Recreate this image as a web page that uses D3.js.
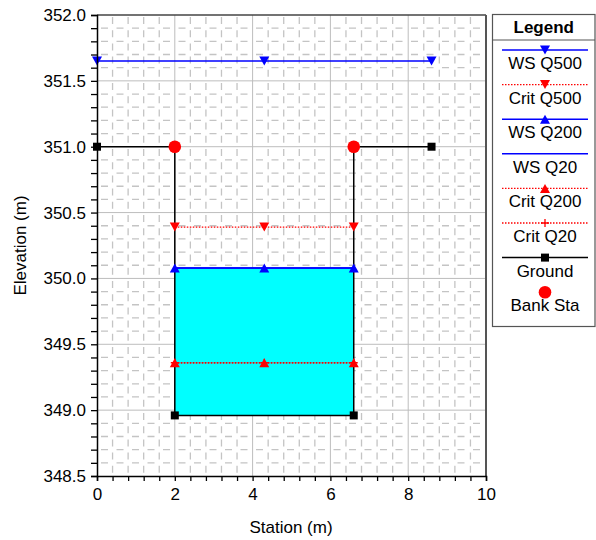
<!DOCTYPE html>
<html>
<head>
<meta charset="utf-8">
<script src="https://cdn.jsdelivr.net/npm/d3@7/dist/d3.min.js"></script>
<style>
  html, body { margin: 0; padding: 0; background: #fff; }
  svg { display: block; font-family: "Liberation Sans", Arial, sans-serif; }
</style>
</head>
<body>
<svg id="chart" width="596" height="540"></svg>
<script>
// Cross-section geometry (station in m, elevation in m)
const groundStation = [0, 2, 2, 6.6, 6.6, 8.6];
const groundElev    = [351.0, 351.0, 348.96, 348.96, 351.0, 351.0];
const bankStation   = [2, 6.6];
const bankElev      = [351.0, 351.0];

// Water surface profiles: start/end station, elevation, marker stations
const profileNames    = ["WS Q500", "Crit Q500", "WS Q200", "WS Q20", "Crit Q200", "Crit Q20"];
const profileElev     = [351.65, 350.39, 350.08, 350.08, 349.36, 349.36];
const profileStart    = [0, 2, 2, 2, 2, 2];
const profileEnd      = [8.6, 6.6, 6.6, 6.6, 6.6, 6.6];
const profileMarkerAt = [[0, 4.3, 8.6], [2, 4.3, 6.6], [2, 4.3, 6.6], [], [2, 4.3, 6.6], [2, 4.3, 6.6]];

const xTicks = [0, 2, 4, 6, 8, 10];
const yTicks = [348.5, 349.0, 349.5, 350.0, 350.5, 351.0, 351.5, 352.0];

const FONT = "Liberation Sans, Arial, sans-serif";
const svg = d3.select("#chart");
const plot = { left: 97, right: 486, top: 15, bottom: 476 };

const x = d3.scaleLinear().domain([0, 10]).range([plot.left, plot.right]);
const y = d3.scaleLinear().domain([348.5, 352.0]).range([plot.bottom, plot.top]);

// Profile styles
const profileStyle = {
  "WS Q500":   { color: "#0000ff", dash: null,      width: 1.5, marker: "down" },
  "Crit Q500": { color: "#ff0000", dash: "1.5,1.5", width: 1.3, marker: "down" },
  "WS Q200":   { color: "#0000ff", dash: null,      width: 1.5, marker: "up" },
  "WS Q20":    { color: "#0000ff", dash: null,      width: 1.5, marker: null },
  "Crit Q200": { color: "#ff0000", dash: "1.5,1.5", width: 1.3, marker: "up" },
  "Crit Q20":  { color: "#ff0000", dash: "1.5,1.5", width: 1.3, marker: "plus" }
};

const g = svg.append("g");

// Minor dashed grid
const minorX = d3.range(0.4, 10, 0.4).filter(v => Math.abs(v / 2 - Math.round(v / 2)) > 1e-6);
const minorY = d3.range(348.6, 352.0, 0.1).filter(v => Math.abs(v * 2 - Math.round(v * 2)) > 1e-6);
g.selectAll(".minx").data(minorX).join("line")
  .attr("x1", d => x(d)).attr("x2", d => x(d))
  .attr("y1", plot.top + 2).attr("y2", plot.bottom)
  .attr("stroke", "#c4c4c4").attr("stroke-width", 1.3)
  .attr("stroke-dasharray", "7,6.2");
g.selectAll(".miny").data(minorY).join("line")
  .attr("x1", plot.left + 4).attr("x2", plot.right)
  .attr("y1", d => y(d)).attr("y2", d => y(d))
  .attr("stroke", "#c4c4c4").attr("stroke-width", 1.3)
  .attr("stroke-dasharray", "7,8.5");

// Major grid
g.selectAll(".majx").data(xTicks.slice(1, -1)).join("line")
  .attr("x1", d => x(d)).attr("x2", d => x(d))
  .attr("y1", plot.top).attr("y2", plot.bottom)
  .attr("stroke", "#bdbdbd").attr("stroke-width", 1);
g.selectAll(".majy").data(yTicks.slice(1, -1)).join("line")
  .attr("x1", plot.left).attr("x2", plot.right)
  .attr("y1", d => y(d)).attr("y2", d => y(d))
  .attr("stroke", "#bdbdbd").attr("stroke-width", 1);

// Water fill (WS Q200 down to channel bed)
const wsIdx = profileNames.indexOf("WS Q200");
g.append("rect")
  .attr("x", x(profileStart[wsIdx]))
  .attr("y", y(profileElev[wsIdx]))
  .attr("width", x(profileEnd[wsIdx]) - x(profileStart[wsIdx]))
  .attr("height", y(groundElev[2]) - y(profileElev[wsIdx]))
  .attr("fill", "#00ffff");

// Ground line
const groundPts = groundStation.map((s, i) => [s, groundElev[i]]);
g.append("path")
  .attr("d", d3.line().x(d => x(d[0])).y(d => y(d[1]))(groundPts))
  .attr("fill", "none").attr("stroke", "#000").attr("stroke-width", 1.5);

// Profile lines (drawn in reverse so the first profiles sit on top)
const order = d3.range(profileNames.length).reverse();
order.forEach(i => {
  const st = profileStyle[profileNames[i]];
  g.append("line")
    .attr("x1", x(profileStart[i])).attr("x2", x(profileEnd[i]))
    .attr("y1", y(profileElev[i])).attr("y2", y(profileElev[i]))
    .attr("stroke", st.color).attr("stroke-width", st.width)
    .attr("stroke-dasharray", st.dash);
});

function drawMarker(sel, type, cx, cy, color) {
  if (type === "down") {
    sel.append("path").attr("d", `M${cx - 5},${cy - 4.5} L${cx + 5},${cy - 4.5} L${cx},${cy + 4.5} Z`).attr("fill", color);
  } else if (type === "up") {
    sel.append("path").attr("d", `M${cx - 5},${cy + 4.5} L${cx + 5},${cy + 4.5} L${cx},${cy - 4.5} Z`).attr("fill", color);
  } else if (type === "plus") {
    sel.append("path").attr("d", `M${cx - 4},${cy} H${cx + 4} M${cx},${cy - 4} V${cy + 4}`).attr("stroke", color).attr("stroke-width", 1.3);
  } else if (type === "square") {
    sel.append("rect").attr("x", cx - 4).attr("y", cy - 4).attr("width", 8).attr("height", 8).attr("fill", color);
  } else if (type === "circle") {
    sel.append("circle").attr("cx", cx).attr("cy", cy).attr("r", 6.3).attr("fill", color);
  }
}

// Ground markers
groundPts.forEach(p => drawMarker(g, "square", x(p[0]), y(p[1]), "#000"));

// Profile markers
order.forEach(i => {
  const st = profileStyle[profileNames[i]];
  if (!st.marker) return;
  profileMarkerAt[i].forEach(s => drawMarker(g, st.marker, x(s), y(profileElev[i]), st.color));
});

// Bank stations
bankStation.forEach((s, i) => drawMarker(g, "circle", x(s), y(bankElev[i]), "#ff0000"));

// Frame
svg.append("line").attr("x1", plot.left).attr("x2", plot.right).attr("y1", plot.top).attr("y2", plot.top)
  .attr("stroke", "#444").attr("stroke-width", 1.5);
svg.append("line").attr("x1", plot.right).attr("x2", plot.right).attr("y1", plot.top).attr("y2", plot.bottom)
  .attr("stroke", "#555").attr("stroke-width", 2);

// Axes
const xAxis = d3.axisBottom(x)
  .tickValues(d3.range(0, 10.001, 0.4).map(v => +v.toFixed(1)))
  .tickFormat(d => xTicks.includes(d) ? d3.format("d")(d) : "")
  .tickSize(5).tickPadding(7);
const gx = svg.append("g").attr("transform", `translate(0,${plot.bottom})`).call(xAxis);
gx.select(".domain").attr("stroke", "#000").attr("stroke-width", 1.5);
gx.selectAll(".tick line").attr("stroke", "#000").attr("stroke-width", 1.3);
gx.selectAll("text").attr("font-size", 17).attr("fill", "#000").attr("font-family", FONT);

const yAxis = d3.axisLeft(y)
  .tickValues(d3.range(348.5, 352.001, 0.1).map(v => +v.toFixed(1)))
  .tickFormat(d => yTicks.some(t => Math.abs(t - d) < 1e-6) ? d3.format(".1f")(d) : "")
  .tickSize(6).tickPadding(5);
const gy = svg.append("g").attr("transform", `translate(${plot.left},0)`).call(yAxis);
gy.select(".domain").attr("stroke", "#000").attr("stroke-width", 1.5);
gy.selectAll(".tick line").attr("stroke", "#000").attr("stroke-width", 1.3);
gy.selectAll("text").attr("font-size", 17).attr("fill", "#000").attr("font-family", FONT);

// Axis titles
svg.append("text").attr("x", 291).attr("y", 533)
  .attr("text-anchor", "middle").attr("font-size", 17).text("Station (m)");
svg.append("text").attr("transform", `translate(26,${(plot.top + plot.bottom) / 2}) rotate(-90)`)
  .attr("text-anchor", "middle").attr("font-size", 17).text("Elevation (m)");

// Legend
const lg = svg.append("g");
const lgBox = { x: 492.5, y: 14.5, w: 102.5, h: 312 };
lg.append("rect").attr("x", lgBox.x).attr("y", lgBox.y).attr("width", lgBox.w).attr("height", lgBox.h)
  .attr("fill", "#fff").attr("stroke", "#555").attr("stroke-width", 1.2);
lg.append("text").attr("x", lgBox.x + lgBox.w / 2).attr("y", 33)
  .attr("text-anchor", "middle").attr("font-size", 17).attr("font-weight", "bold").text("Legend");
lg.append("line").attr("x1", lgBox.x).attr("x2", lgBox.x + lgBox.w).attr("y1", 40).attr("y2", 40)
  .attr("stroke", "#555").attr("stroke-width", 1);

const legendItems = profileNames.map(n => ({ name: n, ...profileStyle[n] }))
  .concat([{ name: "Ground", color: "#000", dash: null, width: 1.5, marker: "square" },
           { name: "Bank Sta", color: "#ff0000", dash: null, width: 0, marker: "circle" }]);
const lx1 = 502, lx2 = 588, lcx = 545;
legendItems.forEach((it, i) => {
  const ly = 50 + i * 34.6;
  if (it.width > 0) {
    lg.append("line").attr("x1", lx1).attr("x2", lx2).attr("y1", ly).attr("y2", ly)
      .attr("stroke", it.color).attr("stroke-width", it.width).attr("stroke-dasharray", it.dash);
  }
  if (it.marker) drawMarker(lg, it.marker, lcx, ly, it.color);
  lg.append("text").attr("x", lcx).attr("y", ly + 19)
    .attr("text-anchor", "middle").attr("font-size", 17).text(it.name);
});
</script>
</body>
</html>
